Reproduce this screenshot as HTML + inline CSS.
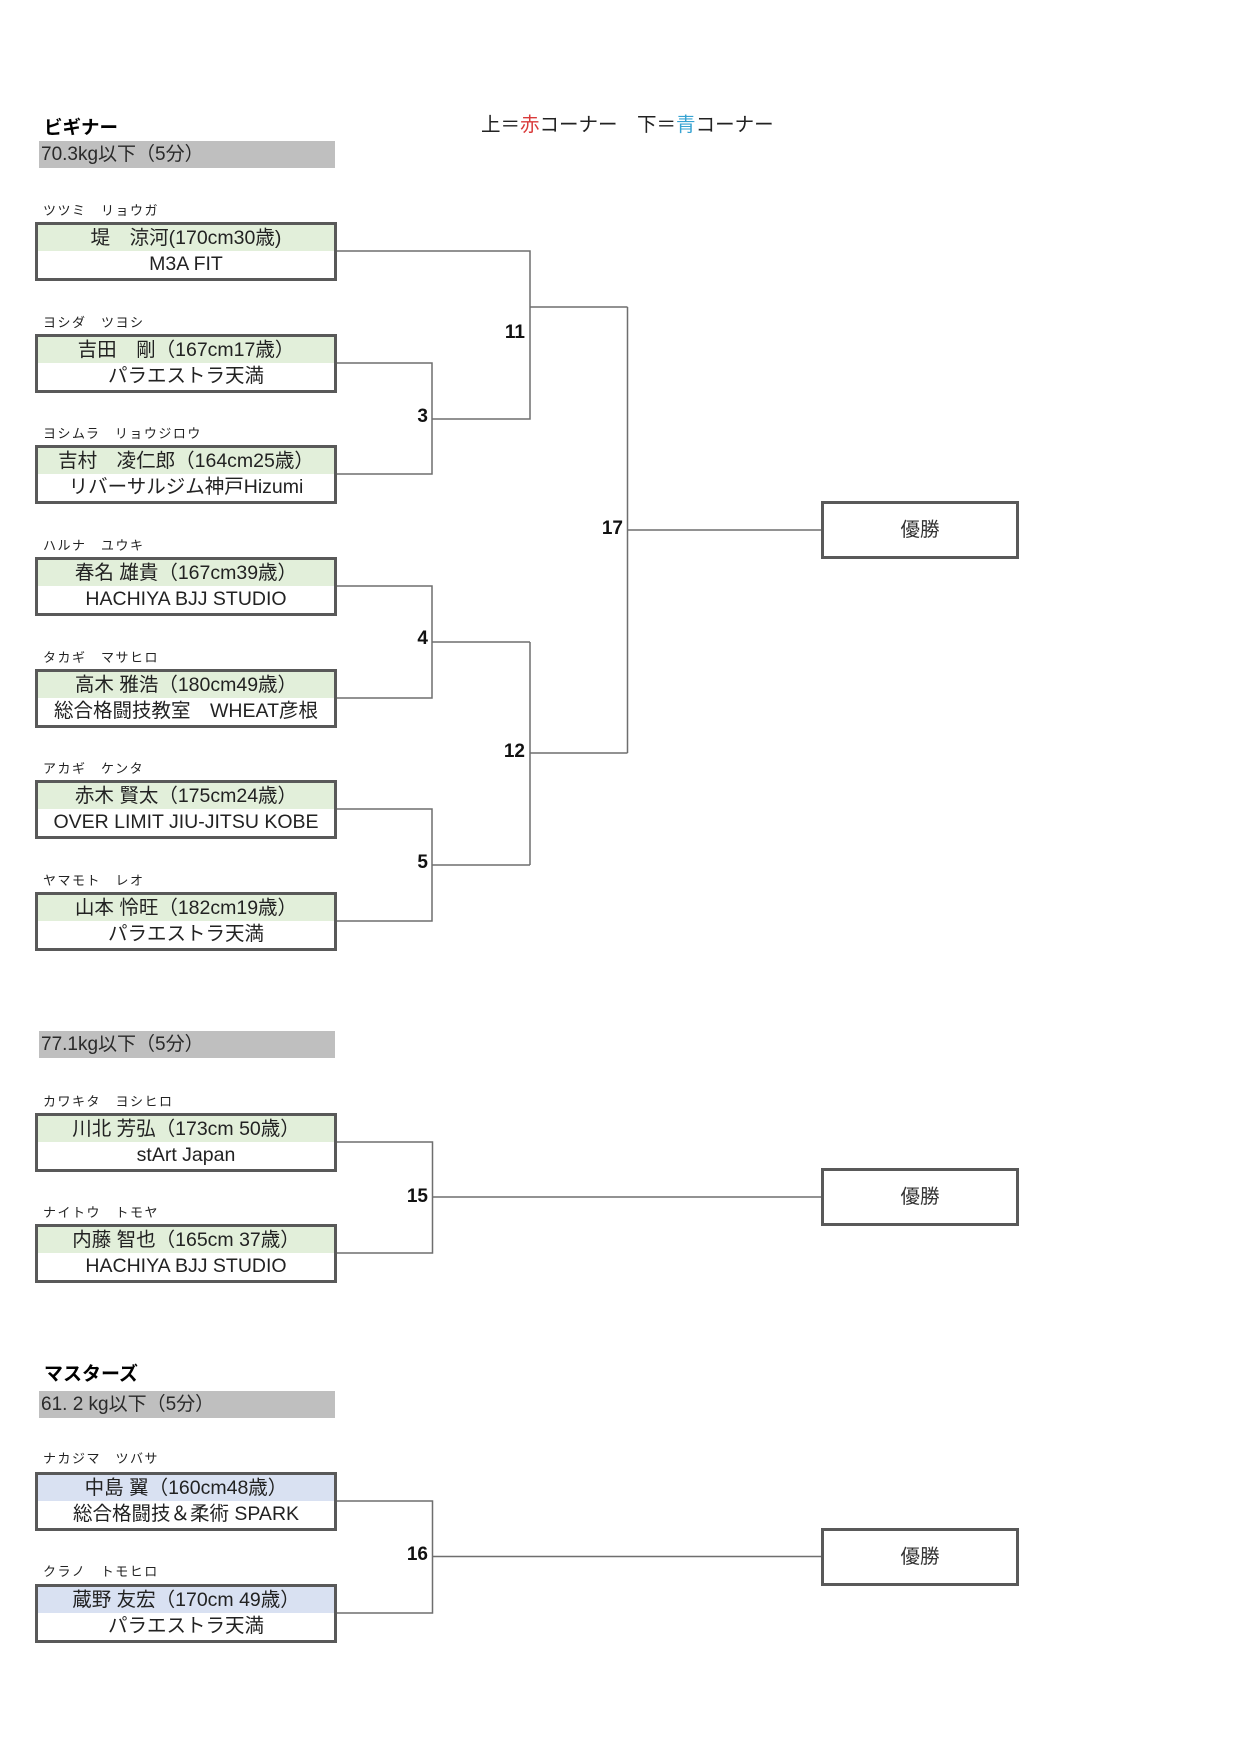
<!DOCTYPE html>
<html><head><meta charset="utf-8"><style>
html,body{margin:0;padding:0;background:#fff}
body{width:1241px;height:1755px;position:relative;overflow:hidden;font-family:"Liberation Sans","Noto Sans CJK JP",sans-serif;color:#1a1a1a}
.abs{position:absolute;white-space:nowrap}
.title{position:absolute;left:44px;font-weight:bold;font-size:18.5px;line-height:24px;color:#000}
.bar{position:absolute;left:39px;width:296px;height:27px;background:#bfbfbf;font-size:19px;line-height:27px;padding-left:2px;box-sizing:border-box;color:#2a2a2a;white-space:nowrap}
.rd{position:absolute;left:43px;font-size:13px;letter-spacing:1.5px;line-height:16px;color:#222;white-space:nowrap}
.box{position:absolute;left:35px;width:302px;height:59px;border:3px solid #595959;box-sizing:border-box;background:#fff}
.r1{height:26px;line-height:26px;background:#e2efda;text-align:center;font-size:19.5px;white-space:nowrap;color:#222}
.r1.b{background:#d9e1f2}
.r2{height:27px;line-height:27px;text-align:center;font-size:19.5px;white-space:nowrap;color:#222}
.n{position:absolute;font-weight:bold;font-size:19px;line-height:20px;text-align:right;width:60px;color:#111}
.win{position:absolute;left:821px;width:198px;height:58px;border:3px solid #595959;box-sizing:border-box;text-align:center;font-size:19.5px;line-height:52px;color:#333;background:#fff}
</style></head><body>

<div class="title" style="top:116px">ビギナー</div>
<div class="abs" style="left:481px;top:112px;font-size:19.5px;line-height:26px;color:#222">上＝<span style="color:#d93a3a">赤</span>コーナー　下＝<span style="color:#37a3d2">青</span>コーナー</div>
<div class="bar" style="top:141px">70.3kg以下（5分）</div>

<svg class="abs" style="left:0;top:0" width="1241" height="1755" viewBox="0 0 1241 1755">
<g fill="none" stroke="#6e6e6e" stroke-width="1.5">
<path d="M337 251 H530 V419 H432"/>
<path d="M337 363 H432 V474 H337"/>
<path d="M530 307 H627.5"/>
<path d="M337 586 H432 V698 H337"/>
<path d="M432 642 H530"/>
<path d="M337 809 H432 V921 H337"/>
<path d="M432 865 H530"/>
<path d="M530 642 V865"/>
<path d="M530 753 H627.5"/>
<path d="M627.5 307 V753"/>
<path d="M627.5 530 H821"/>
<path d="M337 1142 H432.5 V1253 H337"/>
<path d="M432.5 1197 H821"/>
<path d="M337 1501 H432.5 V1613 H337"/>
<path d="M432.5 1556.5 H821"/>
</g>
</svg>

<div class="rd" style="top:203px">ツツミ　リョウガ</div>
<div class="box" style="top:222px"><div class="r1">堤　涼河(170cm30歳)</div><div class="r2">M3A FIT</div></div>

<div class="rd" style="top:315px">ヨシダ　ツヨシ</div>
<div class="box" style="top:334px"><div class="r1">吉田　剛（167cm17歳）</div><div class="r2">パラエストラ天満</div></div>

<div class="rd" style="top:426px">ヨシムラ　リョウジロウ</div>
<div class="box" style="top:445px"><div class="r1">吉村　凌仁郎（164cm25歳）</div><div class="r2">リバーサルジム神戸Hizumi</div></div>

<div class="rd" style="top:538px">ハルナ　ユウキ</div>
<div class="box" style="top:557px"><div class="r1">春名 雄貴（167cm39歳）</div><div class="r2">HACHIYA BJJ STUDIO</div></div>

<div class="rd" style="top:650px">タカギ　マサヒロ</div>
<div class="box" style="top:669px"><div class="r1">高木 雅浩（180cm49歳）</div><div class="r2">総合格闘技教室　WHEAT彦根</div></div>

<div class="rd" style="top:761px">アカギ　ケンタ</div>
<div class="box" style="top:780px"><div class="r1">赤木 賢太（175cm24歳）</div><div class="r2">OVER LIMIT JIU-JITSU KOBE</div></div>

<div class="rd" style="top:873px">ヤマモト　レオ</div>
<div class="box" style="top:892px"><div class="r1">山本 怜旺（182cm19歳）</div><div class="r2">パラエストラ天満</div></div>

<div class="n" style="left:368px;top:407px">3</div>
<div class="n" style="left:368px;top:629px">4</div>
<div class="n" style="left:368px;top:853px">5</div>
<div class="n" style="left:465px;top:323px">11</div>
<div class="n" style="left:465px;top:742px">12</div>
<div class="n" style="left:563px;top:519px">17</div>

<div class="win" style="top:501px">優勝</div>

<div class="bar" style="top:1031px">77.1kg以下（5分）</div>

<div class="rd" style="top:1094px">カワキタ　ヨシヒロ</div>
<div class="box" style="top:1113px"><div class="r1">川北 芳弘（173cm 50歳）</div><div class="r2">stArt Japan</div></div>

<div class="rd" style="top:1205px">ナイトウ　トモヤ</div>
<div class="box" style="top:1224px"><div class="r1">内藤 智也（165cm 37歳）</div><div class="r2">HACHIYA BJJ STUDIO</div></div>

<div class="n" style="left:368px;top:1187px">15</div>
<div class="win" style="top:1168px">優勝</div>

<div class="title" style="top:1363px;font-size:19px">マスターズ</div>
<div class="bar" style="top:1391px">61. 2 kg以下（5分）</div>

<div class="rd" style="top:1451px">ナカジマ　ツバサ</div>
<div class="box" style="top:1472px"><div class="r1 b">中島 翼（160cm48歳）</div><div class="r2">総合格闘技＆柔術 SPARK</div></div>

<div class="rd" style="top:1564px">クラノ　トモヒロ</div>
<div class="box" style="top:1584px"><div class="r1 b">蔵野 友宏（170cm 49歳）</div><div class="r2">パラエストラ天満</div></div>

<div class="n" style="left:368px;top:1545px">16</div>
<div class="win" style="top:1528px">優勝</div>

</body></html>
